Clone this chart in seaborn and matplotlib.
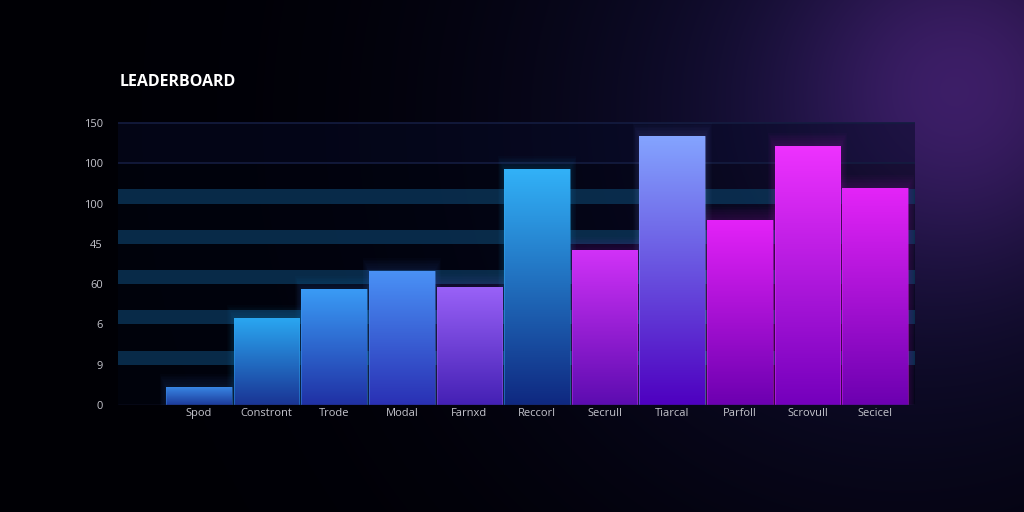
import numpy as np
import pandas as pd
import matplotlib
matplotlib.use("Agg")
import matplotlib.pyplot as plt
from matplotlib.colors import LinearSegmentedColormap, to_rgb
from matplotlib.patches import Rectangle
import seaborn as sns

# datos (eje en unidades de marca, 0..7)
categorias = ["Spod", "Constront", "Trode", "Modal", "Farnxd", "Reccorl",
              "Secrull", "Tiarcal", "Parfoll", "Scrovull", "Secicel"]
valores = [0.45, 2.16, 2.88, 3.33, 2.93, 5.86, 3.85, 6.67, 4.59, 6.43, 5.38]
ytick_labels = ["0", "9", "6", "60", "45", "100", "100", "150"]
color_arriba = ["#3a8ae8", "#2aa8f2", "#3a9cf6", "#4a92f6", "#9a62f8", "#32b2f8",
                "#d232f8", "#84a4ff", "#e422f8", "#ef32ff", "#e424f8"]
color_abajo = ["#1c3a9a", "#1a3494", "#2030a4", "#2a30b4", "#4420b4", "#0f2880",
               "#5c0cb0", "#4e00c0", "#6c00b0", "#7400bc", "#6c00b0"]


def fondo(fig):
    bg = fig.add_axes([0, 0, 1, 1], zorder=-10)
    h, w = 512, 1024
    yy, xx = np.mgrid[0:h, 0:w]
    glow = np.exp(-(np.hypot(xx - 965, yy - 85) / 175.0) ** 2)
    haze = np.exp(-(np.hypot(xx - 900, yy - 120) / 380.0) ** 2)
    img = np.zeros((h, w, 3))
    img += np.array([0.0, 0.0, 0.02])
    img += haze[..., None] * np.array([0.07, 0.06, 0.19])
    img += glow[..., None] * np.array([0.17, 0.06, 0.20])
    bg.imshow(np.clip(img, 0, 1), aspect="auto", extent=[0, 1, 0, 1])
    bg.axis("off")


def barras_degradado(ax):
    for i, p in enumerate(ax.patches):
        x0, y0 = p.get_x(), p.get_y()
        w, hgt = p.get_width(), p.get_height()
        cmap = LinearSegmentedColormap.from_list("g", [color_abajo[i], color_arriba[i]])
        grad = np.linspace(0, 1, 256).reshape(-1, 1)
        # halo suave sobre la barra
        for k in range(8):
            pad = 0.04 * (k + 1)
            ax.add_patch(Rectangle((x0 - pad * 0.3, y0), w + pad * 0.6, hgt + pad,
                                   color=color_arriba[i], alpha=0.018, lw=0, zorder=2))
        im = ax.imshow(grad, extent=[x0, x0 + w, y0, y0 + hgt], origin="lower",
                       cmap=cmap, aspect="auto", zorder=3)
        im.set_clip_path(p)
        p.set_facecolor("none")
        p.set_edgecolor(to_rgb(color_arriba[i]) + (0.5,))
        p.set_linewidth(0.6)
        p.set_zorder(4)


def main():
    sns.set_style("dark")
    plt.rcParams["font.family"] = ["Open Sans", "DejaVu Sans"]
    df = pd.DataFrame({"categoria": categorias, "valor": valores})

    fig = plt.figure(figsize=(10.24, 5.12), dpi=100)
    fig.patch.set_facecolor("black")
    fondo(fig)
    ax = fig.add_axes([0.1152, 0.209, 0.7783, 0.5586])
    ax.set_facecolor("none")

    sns.barplot(data=df, x="categoria", y="valor", color="#3060d0", width=0.97,
                ax=ax, zorder=3)
    barras_degradado(ax)

    # bandas horizontales
    for i in range(1, 6):
        ax.axhspan(i, i + 0.35, color="#0b3558", alpha=0.8, lw=0, zorder=1)
    for i in (6, 7):
        ax.axhline(i, color="#141c40", lw=1.2, zorder=1)
    ax.axhspan(6, 7, color="#060a26", alpha=0.5, lw=0, zorder=0.5)
    ax.axhspan(0, 6, color="#010412", alpha=0.5, lw=0, zorder=0.5)
    ax.axhline(0, color="#1a2040", lw=1, zorder=5)

    ax.set_xlim(-1.2, 10.59)
    ax.set_ylim(0, 7.1)
    ax.set_yticks(range(8))
    ax.set_yticklabels(ytick_labels)
    ax.tick_params(axis="both", colors="#c4c4cc", labelsize=8, length=0)
    ax.tick_params(axis="y", pad=11)
    ax.tick_params(axis="x", pad=2)
    ax.set_xlabel("")
    ax.set_ylabel("")
    ax.grid(False)
    for s in ax.spines.values():
        s.set_visible(False)

    fig.text(0.117, 0.84, "LEADERBOARD", color="white", fontsize=11.5,
             fontweight="bold", va="center", ha="left")
    fig.savefig("out.png", dpi=100, facecolor="black")
    plt.close(fig)


if __name__ == "__main__":
    main()
